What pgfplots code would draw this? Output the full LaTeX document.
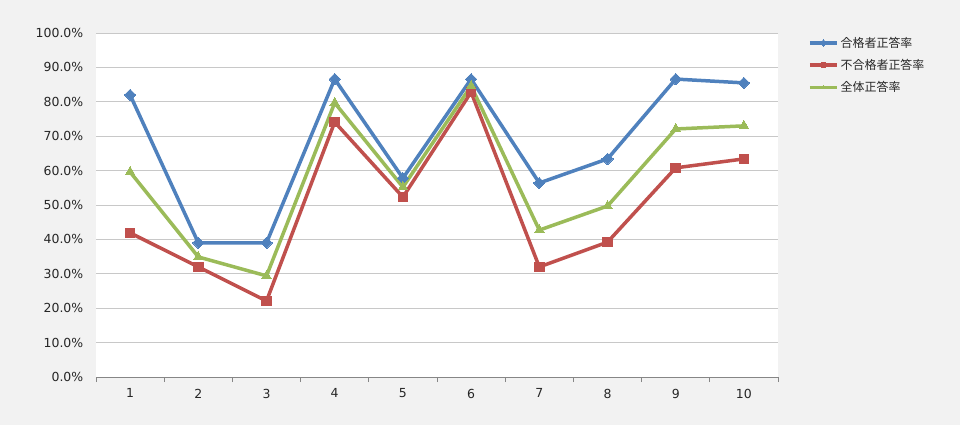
\documentclass[border=0pt]{standalone}
\usepackage{pgfplots}
\pgfplotsset{compat=1.18}
\usepackage{fontspec}
\setmainfont{DejaVu Sans}
\newfontfamily\cjk{Noto Sans CJK JP}
\definecolor{bgc}{HTML}{F2F2F2}
\definecolor{cblue}{HTML}{4F81BD}
\definecolor{cred}{HTML}{C0504D}
\definecolor{cgreen}{HTML}{9BBB59}
\definecolor{gridc}{HTML}{C8C8C8}
\definecolor{axc}{HTML}{868686}
\definecolor{txt}{HTML}{262626}
\begin{document}
\begin{tikzpicture}[x=1bp,y=1bp]
\fill[bgc] (0,0) rectangle (960,425);
\useasboundingbox (0,0) rectangle (960,425);
\begin{axis}[
  at={(96bp,48bp)}, anchor=south west,
  scale only axis, width=682bp, height=344bp,
  xmin=0.5, xmax=10.5, ymin=0, ymax=100,
  axis background/.style={fill=white},
  axis x line*=bottom, axis y line*=left,
  y axis line style={draw=none},
  x axis line style={draw=axc, line width=0.8bp},
  ymajorgrids, major grid style={draw=gridc, line width=0.8bp},
  xtick={1,...,10},
  minor xtick={0.5,1.5,...,10.5},
  major x tick style={draw=none},
  minor x tick style={draw=axc, line width=0.8bp},
  minor tick length=5bp,
  tick align=outside,
  ytick={0,10,...,100},
  ytick style={draw=none},
  yticklabel={\pgfmathprintnumber[fixed,fixed zerofill,precision=1]{\tick}\%},
  /pgf/number format/assume math mode=true,
  tick label style={font=\fontsize{12.5}{14}\selectfont, text=txt},
  xticklabel style={yshift=-4bp},
  yticklabel style={xshift=-5bp},
  legend style={at={(1,1)}, anchor=north west, xshift=30bp, yshift=-2bp,
    draw=none, fill=none, inner sep=0pt, row sep=6.5bp,
    font=\cjk\fontsize{12}{14}\selectfont, text=txt, cells={anchor=west}},
  legend cell align=left,
  legend image code/.code={
    \draw[#1, mark=none] (0bp,0bp) -- (27bp,0bp);
    \draw[#1, mark size=2.4bp] plot coordinates {(13.5bp,0bp)};
  },
  every axis plot/.append style={line width=3.5bp},
]
\addplot[color=cblue, mark=square*, mark size=4bp, mark options={rotate=45, solid, line width=0pt}]
  coordinates {(1,82.0)(2,39.0)(3,39.0)(4,86.6)(5,57.8)(6,86.6)(7,56.4)(8,63.4)(9,86.6)(10,85.5)};
\addlegendentry{合格者正答率}
\addplot[color=cred, mark=square*, mark size=4.8bp, mark options={solid, line width=0pt}]
  coordinates {(1,41.9)(2,32.0)(3,22.1)(4,74.1)(5,52.3)(6,82.8)(7,32.0)(8,39.2)(9,60.8)(10,63.4)};
\addlegendentry{不合格者正答率}
\addplot[color=cgreen, mark=triangle*, mark size=5.5bp, mark options={solid, line width=0pt}]
  coordinates {(1,59.6)(2,34.9)(3,29.4)(4,79.7)(5,55.2)(6,84.6)(7,42.7)(8,49.7)(9,72.1)(10,73.0)};
\addlegendentry{全体正答率}
\end{axis}
\end{tikzpicture}
\end{document}
